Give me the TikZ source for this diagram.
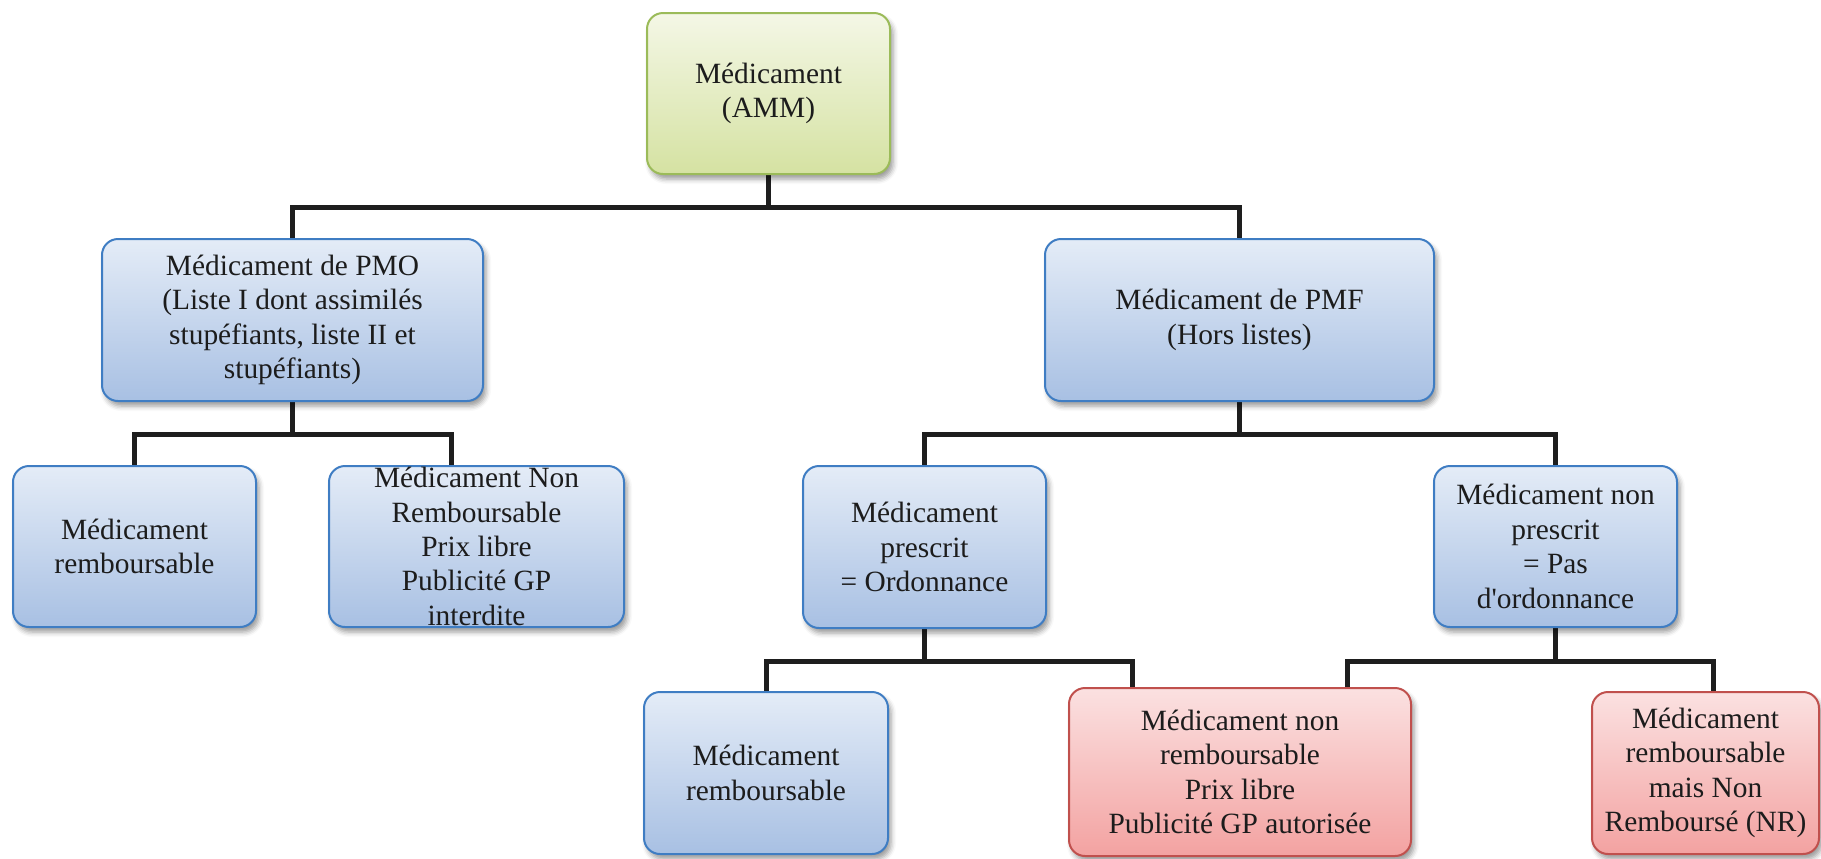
\documentclass[tikz,border=0pt]{standalone}
\usepackage{fontspec}
\setmainfont{Liberation Serif}[Ligatures=TeXOff]
\usetikzlibrary{shadows.blur,backgrounds}
\definecolor{bluetop}{HTML}{E4ECF7}
\definecolor{bluebot}{HTML}{A8C0E3}
\definecolor{blueline}{HTML}{3F7DC3}
\definecolor{greentop}{HTML}{F4F7E6}
\definecolor{greenbot}{HTML}{D5E2A2}
\definecolor{greenline}{HTML}{9BBB59}
\definecolor{redtop}{HTML}{FBE1E1}
\definecolor{redbot}{HTML}{F3A2A1}
\definecolor{redline}{HTML}{C0504D}
\definecolor{connc}{HTML}{1E1E1E}
\definecolor{txt}{HTML}{1C1C1C}
\tikzset{
  box/.style={rounded corners=8pt, line width=1pt, align=center, inner sep=0pt,
    font=\fontsize{14.7pt}{17.2pt}\selectfont, text=txt,
    blur shadow={shadow xshift=1.5pt, shadow yshift=-2.5pt, shadow blur radius=2.5pt, shadow opacity=40}},
  bluebox/.style={box, draw=blueline, top color=bluetop, bottom color=bluebot},
  greenbox/.style={box, draw=greenline, top color=greentop, bottom color=greenbot},
  redbox/.style={box, draw=redline, top color=redtop, bottom color=redbot},
  conn/.style={line width=2.5pt, draw=connc},
}
\begin{document}
\begin{tikzpicture}[x=0.5pt,y=-0.5pt]
\useasboundingbox (0,0) rectangle (1821,858);
\node[greenbox, minimum width=121.5pt, minimum height=80.5pt] (top) at (768.5,93.5) {Médicament\\(AMM)};
\node[bluebox, minimum width=190.5pt, minimum height=81pt] (pmo) at (292.5,320) {Médicament de PMO\\(Liste I dont assimilés\\stupéfiants, liste II et\\stupéfiants)};
\node[bluebox, minimum width=194.5pt, minimum height=81pt] (pmf) at (1239.5,320) {Médicament de PMF\\(Hors listes)};
\node[bluebox, minimum width=121.5pt, minimum height=80.5pt] (remb1) at (134.5,546.5) {Médicament\\remboursable};
\node[bluebox, minimum width=147.5pt, minimum height=80.5pt] (nr) at (476.5,546.5) {Médicament Non\\Remboursable\\Prix libre\\Publicité GP\\interdite};
\node[bluebox, minimum width=121.5pt, minimum height=81pt] (presc) at (924.5,547) {Médicament\\prescrit\\= Ordonnance};
\node[bluebox, minimum width=121.5pt, minimum height=80.5pt] (nonpresc) at (1555.5,546.5) {Médicament non\\prescrit\\= Pas\\d'ordonnance};
\node[bluebox, minimum width=122pt, minimum height=81pt] (remb2) at (766,773) {Médicament\\remboursable};
\node[redbox, minimum width=171pt, minimum height=84pt] (red1) at (1240,772) {Médicament non\\remboursable\\Prix libre\\Publicité GP autorisée};
\node[redbox, minimum width=113.5pt, minimum height=81pt] (red2) at (1705.5,773) {Médicament\\remboursable\\mais Non\\Remboursé (NR)};
\begin{scope}[on background layer]
\draw[conn] (top.south) -- ++(0,32) -| (pmo.north);
\draw[conn] (top.south) -- ++(0,32) -| (pmf.north);
\draw[conn] (pmo.south) -- ++(0,32) -| (remb1.north);
\draw[conn] (pmo.south) -- ++(0,32) -| ([xshift=-12.75pt]nr.north);
\draw[conn] (pmf.south) -- ++(0,32) -| (presc.north);
\draw[conn] (pmf.south) -- ++(0,32) -| (nonpresc.north);
\draw[conn] (presc.south) -- ++(0,32) -| (remb2.north);
\draw[conn] (presc.south) -- ++(0,32) -| ([xshift=-54pt]red1.north);
\draw[conn] (nonpresc.south) -- ++(0,33) -| ([xshift=53.5pt]red1.north);
\draw[conn] (nonpresc.south) -- ++(0,33) -| ([xshift=3.75pt]red2.north);
\end{scope}
\end{tikzpicture}
\end{document}
